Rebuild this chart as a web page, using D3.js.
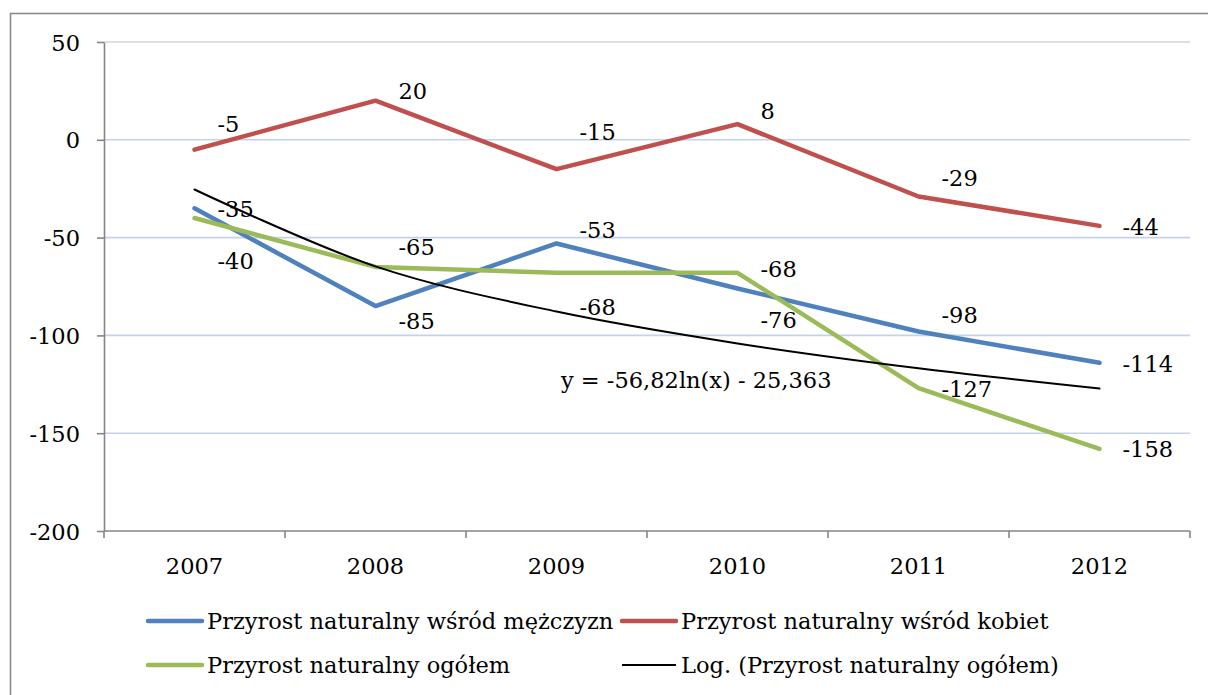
<!DOCTYPE html>
<html>
<head>
<meta charset="utf-8">
<script src="https://cdn.jsdelivr.net/npm/d3@7"></script>
<style>
  body { margin: 0; background: #fff; overflow: hidden; }
  text { font-family: "DejaVu Serif", serif; font-size: 22.5px; fill: #000; }
  .axis path, .axis line { stroke: #868686; stroke-width: 1.6; }
  .grid line { stroke: #c3d3e9; stroke-width: 1.6; }
</style>
</head>
<body>
<div id="chart-div"></div>
<script>
// data
var years = ["2007", "2008", "2009", "2010", "2011", "2012"];
var men = [-35, -85, -53, -76, -98, -114];
var women = [-5, 20, -15, 8, -29, -44];
var total = [-40, -65, -68, -68, -127, -158];
// logarithmic trend of the total, read at each year
var trend = [-25.4, -64.7, -87.8, -104.1, -116.8, -127.2];
var trendLabel = "y = -56,82ln(x) - 25,363";
var yTicks = [-200, -150, -100, -50, 0, 50];

var seriesNames = [
  "Przyrost naturalny wśród mężczyzn",
  "Przyrost naturalny wśród kobiet",
  "Przyrost naturalny ogółem",
  "Log. (Przyrost naturalny ogółem)"
];

// vertical shift of each data label from its point (px)
var menLabelDy = [1, 15, -13, 32, -16, 1];
var womenLabelDy = [-26, -10, -37, -13, -19, 1];
var totalLabelDy = [43, -20, 34, -4, 1, 0];

var fn = {};
var vars = {};

vars.width = 1208;
vars.height = 695;

vars.plot = { left: 104, right: 1190, top: 42, bottom: 531 };

fn.setup_scales = function() {
  vars.x = d3.scaleBand()
    .domain(years)
    .range([vars.plot.left, vars.plot.right]);

  vars.y = d3.scaleLinear()
    .domain([-200, 50])
    .range([vars.plot.bottom, vars.plot.top]);

  vars.cx = function(i) {
    return vars.x(years[i]) + vars.x.bandwidth() / 2;
  };
};

fn.draw_grid = function(svg) {
  var g = svg.append("g").attr("class", "grid");
  g.selectAll("line")
    .data(yTicks.filter(function(d) { return d > -200; }))
    .enter().append("line")
    .attr("x1", vars.plot.left)
    .attr("x2", vars.plot.right)
    .attr("y1", function(d) { return vars.y(d); })
    .attr("y2", function(d) { return vars.y(d); })
    .style("stroke", function(d) { return d === 50 ? "#d6d6d6" : null; });
};

fn.draw_axes = function(svg) {
  var yAxis = d3.axisLeft(vars.y)
    .tickValues(yTicks)
    .tickSize(7)
    .tickPadding(17)
    .tickSizeOuter(0)
    .tickFormat(function(d) { return String(d); });

  var ya = svg.append("g")
    .attr("class", "axis")
    .attr("transform", "translate(" + vars.plot.left + ",0)")
    .call(yAxis);
  ya.selectAll("text")
    .attr("dy", "0.36em")
    .style("font-size", "22.5px")
    .style("font-family", "DejaVu Serif")
    .attr("fill", "#000");

  // x axis: line plus ticks on the band boundaries
  var xa = svg.append("g").attr("class", "axis");
  xa.append("line")
    .attr("x1", vars.plot.left).attr("x2", vars.plot.right)
    .attr("y1", vars.plot.bottom).attr("y2", vars.plot.bottom);

  var bounds = years.map(function(d) { return vars.x(d); }).concat([vars.plot.right]);
  xa.selectAll("line.tick")
    .data(bounds)
    .enter().append("line")
    .attr("class", "tick")
    .attr("x1", function(d) { return d; })
    .attr("x2", function(d) { return d; })
    .attr("y1", vars.plot.bottom)
    .attr("y2", vars.plot.bottom + 7);

  xa.selectAll("text")
    .data(years)
    .enter().append("text")
    .attr("x", function(d, i) { return vars.cx(i); })
    .attr("y", 574)
    .attr("text-anchor", "middle")
    .text(function(d) { return d; });
};

fn.draw_series = function(svg, values, color, width, curve) {
  var line = d3.line()
    .x(function(d, i) { return vars.cx(i); })
    .y(function(d) { return vars.y(d); })
    .curve(curve || d3.curveLinear);

  svg.append("path")
    .datum(values)
    .attr("d", line)
    .attr("fill", "none")
    .attr("stroke", color)
    .attr("stroke-width", width)
    .attr("stroke-linecap", "round")
    .attr("stroke-linejoin", "round");
};

fn.draw_labels = function(svg, values, dys) {
  svg.append("g")
    .selectAll("text")
    .data(values)
    .enter().append("text")
    .attr("x", function(d, i) { return vars.cx(i) + 23; })
    .attr("y", function(d, i) { return vars.y(d) + dys[i] + 8; })
    .text(function(d) { return String(d); });
};

fn.draw_legend = function(svg) {
  var items = [
    { name: seriesNames[0], color: "#4f81bd", w: 4.5, x: 148, y: 621 },
    { name: seriesNames[1], color: "#c0504d", w: 4.5, x: 622, y: 621 },
    { name: seriesNames[2], color: "#9bbb59", w: 4.5, x: 148, y: 665 },
    { name: seriesNames[3], color: "#000000", w: 2, x: 622, y: 665 }
  ];

  var g = svg.append("g").attr("class", "legend");
  var item = g.selectAll("g")
    .data(items)
    .enter().append("g")
    .attr("transform", function(d) { return "translate(" + d.x + "," + d.y + ")"; });

  item.append("line")
    .attr("x1", 0).attr("x2", 54)
    .attr("stroke", function(d) { return d.color; })
    .attr("stroke-width", function(d) { return d.w; })
    .attr("stroke-linecap", function(d) { return d.w > 3 ? "round" : "butt"; });

  item.append("text")
    .attr("x", 59)
    .attr("y", 8)
    .text(function(d) { return d.name; });
};

fn.main = function() {
  fn.setup_scales();

  var svg = d3.select("#chart-div")
    .append("svg")
    .attr("width", vars.width)
    .attr("height", vars.height)
    .style("display", "block");

  // outer chart frame (runs past the right and bottom edge)
  svg.append("rect")
    .attr("x", 10.5).attr("y", 13.5)
    .attr("width", 1220).attr("height", 700)
    .attr("fill", "#fff")
    .attr("stroke", "#8a8a8a")
    .attr("stroke-width", 1.6);

  fn.draw_grid(svg);
  fn.draw_axes(svg);

  fn.draw_series(svg, men, "#4f81bd", 4.5);
  fn.draw_series(svg, women, "#c0504d", 4.5);
  fn.draw_series(svg, total, "#9bbb59", 4.5);
  fn.draw_series(svg, trend, "#000000", 2, d3.curveCatmullRom);

  fn.draw_labels(svg, men, menLabelDy);
  fn.draw_labels(svg, women, womenLabelDy);
  fn.draw_labels(svg, total, totalLabelDy);

  svg.append("text")
    .attr("x", 561)
    .attr("y", 388)
    .text(trendLabel);

  fn.draw_legend(svg);
};

fn.main();
</script>
</body>
</html>
